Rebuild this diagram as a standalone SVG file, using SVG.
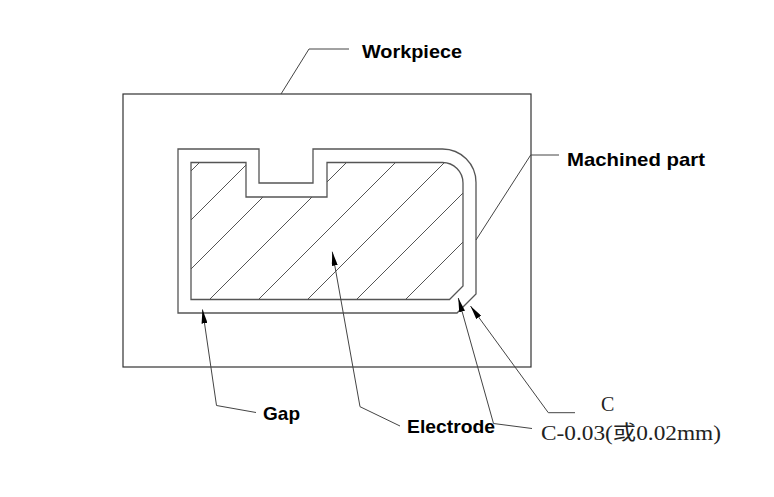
<svg xmlns="http://www.w3.org/2000/svg" width="774" height="497" viewBox="0 0 774 497">
<style>
.bg{fill:#fff}
.wp{fill:none;stroke:#333;stroke-width:1.2}
.contour{fill:none;stroke:#555;stroke-width:1.3}
.hatch{stroke:#555;stroke-width:1}
.leader{fill:none;stroke:#444;stroke-width:1}
.lbl{font-family:"Liberation Sans",Arial,sans-serif;font-weight:bold;font-size:19px;fill:#000}
.dim{font-family:"Liberation Serif","Noto Sans CJK SC",serif;font-size:20px;fill:#222}
</style>
<defs>
<marker id="arr" viewBox="0 0 14 6" markerWidth="14" markerHeight="6" refX="14" refY="3" orient="auto-start-reverse" markerUnits="userSpaceOnUse">
<path d="M0,0 L14,3 L0,6 z" fill="#000"/>
</marker>
<clipPath id="elecClip">
<path d="M191,162.5 H246 V197 H327 V162.5 H442.5 A20.5,20.5 0 0 1 463,183 V286 L449.5,299.5 H191 Z"/>
</clipPath>
</defs>
<rect class="bg" x="0" y="0" width="774" height="497"/>
<g id="workpiece">
<rect class="wp" x="123" y="94" width="408" height="273"/>
<text class="lbl" x="362" y="58" textLength="100" lengthAdjust="spacingAndGlyphs">Workpiece</text>
</g>
<g id="machined-part">
<path class="contour" d="M178,149 H259 V183 H313 V149 H442.5 A33.5,33.5 0 0 1 476,182.5 V294 L457,313 H178 Z"/>
<text class="lbl" x="567" y="166" textLength="138" lengthAdjust="spacingAndGlyphs">Machined part</text>
</g>
<g id="electrode">
<g clip-path="url(#elecClip)">
<line class="hatch" x1="180" y1="182" x2="480" y2="-118"/>
<line class="hatch" x1="180" y1="231" x2="480" y2="-69"/>
<line class="hatch" x1="180" y1="280" x2="480" y2="-20"/>
<line class="hatch" x1="180" y1="329" x2="480" y2="29"/>
<line class="hatch" x1="180" y1="378" x2="480" y2="78"/>
<line class="hatch" x1="180" y1="427" x2="480" y2="127"/>
<line class="hatch" x1="180" y1="476" x2="480" y2="176"/>
<line class="hatch" x1="180" y1="525" x2="480" y2="225"/>
</g>
<path class="contour" d="M191,162.5 H246 V197 H327 V162.5 H442.5 A20.5,20.5 0 0 1 463,183 V286 L449.5,299.5 H191 Z"/>
<text class="lbl" x="407" y="433" textLength="88" lengthAdjust="spacingAndGlyphs">Electrode</text>
</g>
<g id="gap">
<text class="lbl" x="263" y="420" textLength="37" lengthAdjust="spacingAndGlyphs">Gap</text>
</g>
<g id="chamfer">
<text class="dim" x="601" y="411">C</text>
<text class="dim" x="541" y="440" textLength="180" lengthAdjust="spacingAndGlyphs">C-0.03(或0.02mm)</text>
</g>
<g id="connectors">
<polyline class="leader" points="281,94 309,49 349,49"/>
<polyline class="leader" points="476,240 530.7,155 559,155"/>
<polyline class="leader" marker-start="url(#arr)" points="202.5,309.5 216.5,405.5 256,412.5"/>
<polyline class="leader" marker-start="url(#arr)" points="332.3,251.7 360,406.7 400,426"/>
<polyline class="leader" marker-start="url(#arr)" points="458.3,298 493.5,423.5 532,428.5"/>
<polyline class="leader" marker-start="url(#arr)" points="470.5,306 548.3,412.7 575,412.7"/>
</g>
</svg>
